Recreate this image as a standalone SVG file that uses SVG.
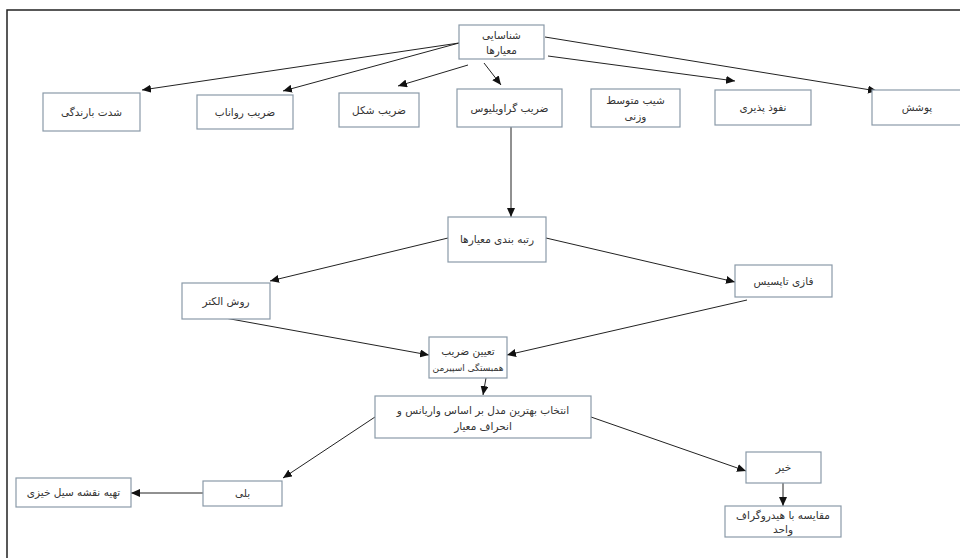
<svg xmlns="http://www.w3.org/2000/svg" width="960" height="558" viewBox="0 0 960 558">
<style>
.box{fill:#fff;stroke:#8a9aa8;stroke-width:1.2}
.t{font-family:"DejaVu Sans","Noto Sans",sans-serif;font-size:10.5px;fill:#333;text-anchor:middle;direction:rtl}
.s{font-size:9px}
.c{stroke:#222;stroke-width:1;fill:none;marker-end:url(#ah)}
</style>
<defs>
<marker id="ah" markerUnits="userSpaceOnUse" markerWidth="10" markerHeight="8" refX="9" refY="4" orient="auto">
<path d="M0,0 L9,4 L0,8 z" fill="#111"/>
</marker>
</defs>
<rect x="0" y="0" width="960" height="558" fill="#fff"/>
<path d="M7,558 V10 H960" fill="none" stroke="#222" stroke-width="1.5"/>
<g id="connectors">
<line class="c" x1="459" y1="43" x2="142" y2="90"/>
<line class="c" x1="459" y1="43" x2="283" y2="91"/>
<line class="c" x1="468" y1="65" x2="398" y2="86"/>
<line class="c" x1="484" y1="63" x2="501" y2="85"/>
<line class="c" x1="548" y1="56" x2="735" y2="81"/>
<line class="c" x1="545" y1="37" x2="877" y2="91"/>
<line class="c" x1="511" y1="127" x2="511" y2="217"/>
<line class="c" x1="448" y1="238" x2="270" y2="281"/>
<line class="c" x1="546" y1="238" x2="735" y2="282"/>
<line class="c" x1="225" y1="318" x2="429" y2="355"/>
<line class="c" x1="747" y1="300" x2="507" y2="355"/>
<line class="c" x1="486" y1="378" x2="483" y2="395"/>
<line class="c" x1="375" y1="417" x2="283" y2="478"/>
<line class="c" x1="591" y1="417" x2="746" y2="471"/>
<line class="c" x1="203" y1="493" x2="131" y2="493"/>
<line class="c" x1="783" y1="483" x2="783" y2="506"/>
</g>
<g id="n-shenasaei"><rect class="box" x="459" y="25" width="85" height="34"/><text class="t" x="501.5" y="39">شناسایی</text><text class="t" x="501.5" y="54">معیارها</text></g>
<g id="n-shedat"><rect class="box" x="43" y="93" width="97" height="38"/><text class="t" x="91.5" y="116">شدت بارندگی</text></g>
<g id="n-ravanab"><rect class="box" x="197" y="95" width="96" height="34"/><text class="t" x="245" y="116">ضریب رواناب</text></g>
<g id="n-shekl"><rect class="box" x="339" y="93" width="80" height="34"/><text class="t" x="379" y="114">ضریب شکل</text></g>
<g id="n-gravelius"><rect class="box" x="457" y="89" width="105" height="38"/><text class="t" x="509.5" y="112">ضریب گراویلیوس</text></g>
<g id="n-shib"><rect class="box" x="591" y="89" width="89" height="38"/><text class="t" x="635.5" y="104">شیب متوسط</text><text class="t" x="635.5" y="120">وزنی</text></g>
<g id="n-nofooz"><rect class="box" x="715" y="90" width="96" height="35"/><text class="t" x="763" y="111">نفوذ پذیری</text></g>
<g id="n-poosh"><rect class="box" x="872" y="90" width="90" height="35"/><text class="t" x="917" y="111">پوشش</text></g>
<g id="n-rotbe"><rect class="box" x="448" y="217" width="98" height="45"/><text class="t" x="497" y="243">رتبه بندی معیارها</text></g>
<g id="n-electre"><rect class="box" x="182" y="283" width="88" height="36"/><text class="t" x="226" y="305">روش الکتر</text></g>
<g id="n-topsis"><rect class="box" x="735" y="265" width="97" height="32"/><text class="t" x="783.5" y="285">فازی تاپسیس</text></g>
<g id="n-spearman"><rect class="box" x="429" y="337" width="78" height="41"/><text class="t" x="468" y="355">تعیین ضریب</text><text class="t s" x="468" y="371">همبستگی اسپیرمن</text></g>
<g id="n-entekhab"><rect class="box" x="375" y="396" width="216" height="42"/><text class="t" x="483" y="414">انتخاب بهترین مدل بر اساس واریانس و</text><text class="t" x="483" y="430">انحراف معیار</text></g>
<g id="n-bale"><rect class="box" x="203" y="481" width="79" height="25"/><text class="t" x="242.5" y="497">بلی</text></g>
<g id="n-tahie"><rect class="box" x="16" y="478" width="115" height="29"/><text class="t" x="73.5" y="496">تهیه نقشه سیل خیزی</text></g>
<g id="n-kheir"><rect class="box" x="746" y="452" width="75" height="31"/><text class="t" x="783.5" y="471">خیر</text></g>
<g id="n-moghayese"><rect class="box" x="725" y="506" width="116" height="31"/><text class="t" x="783" y="519">مقایسه با هیدروگراف</text><text class="t" x="783" y="533">واحد</text></g>
</svg>
